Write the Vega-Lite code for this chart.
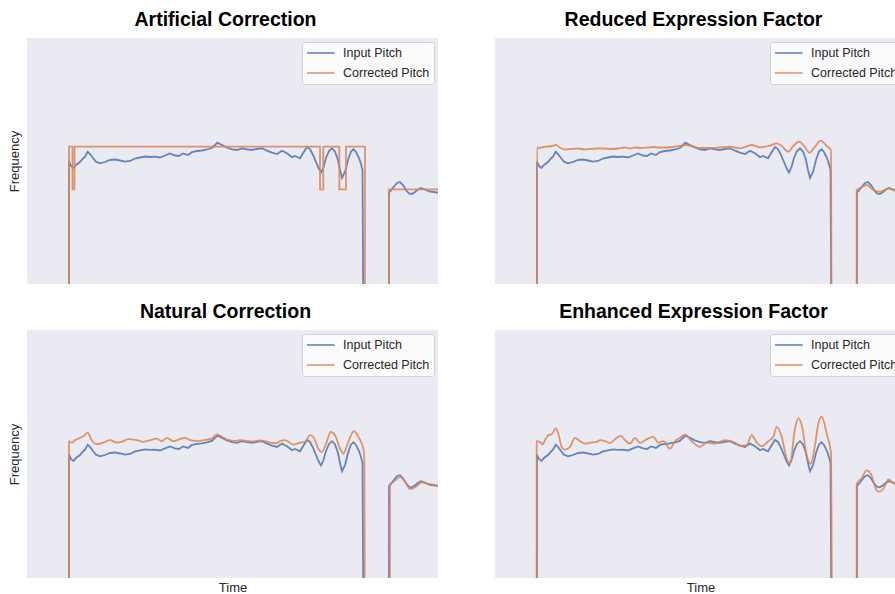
{
  "$schema": "https://vega.github.io/schema/vega-lite/v6.json",
  "background": "white",
  "padding": {"left": 8, "top": 9, "right": 0, "bottom": 0},
  "config": {
    "view": {"fill": "#EAEAF2", "stroke": null},
    "font": "Liberation Sans",
    "title": {"fontSize": 19.5, "fontWeight": "bold", "font": "Liberation Sans", "color": "#000000", "anchor": "middle", "offset": 8, "dx": -7},
    "axis": {"labels": false, "ticks": false, "domain": false, "grid": false, "titleFontSize": 13, "titleFontWeight": "normal", "titleColor": "#262626", "titleFont": "Liberation Sans"},
    "legend": {"title": null, "orient": "top-right", "offset": 4, "padding": 4, "fillColor": "#FBFBFC", "strokeColor": "#CFCFD4", "cornerRadius": 3, "labelFontSize": 12.5, "labelColor": "#262626", "labelFont": "Liberation Sans", "symbolType": "M-1,0H3.6", "symbolSize": 144, "symbolStrokeWidth": 1.6, "symbolOpacity": 0.85, "labelOffset": 23, "rowPadding": 6}
  },
  "data": {"values": [
    {"panel":"All","series":"Input Pitch","t":0,"f":0},
    {"panel":"All","series":"Input Pitch","t":0.419,"f":0},
    {"panel":"All","series":"Input Pitch","t":0.42,"f":182.3},
    {"panel":"All","series":"Input Pitch","t":0.44,"f":178},
    {"panel":"All","series":"Input Pitch","t":0.463,"f":176},
    {"panel":"All","series":"Input Pitch","t":0.49,"f":179},
    {"panel":"All","series":"Input Pitch","t":0.53,"f":182},
    {"panel":"All","series":"Input Pitch","t":0.56,"f":185.5},
    {"panel":"All","series":"Input Pitch","t":0.58,"f":187.3},
    {"panel":"All","series":"Input Pitch","t":0.607,"f":192.3},
    {"panel":"All","series":"Input Pitch","t":0.63,"f":190},
    {"panel":"All","series":"Input Pitch","t":0.66,"f":186},
    {"panel":"All","series":"Input Pitch","t":0.69,"f":182.3},
    {"panel":"All","series":"Input Pitch","t":0.73,"f":180.7},
    {"panel":"All","series":"Input Pitch","t":0.78,"f":182},
    {"panel":"All","series":"Input Pitch","t":0.83,"f":184},
    {"panel":"All","series":"Input Pitch","t":0.88,"f":184.5},
    {"panel":"All","series":"Input Pitch","t":0.93,"f":183.5},
    {"panel":"All","series":"Input Pitch","t":0.98,"f":182.3},
    {"panel":"All","series":"Input Pitch","t":1.03,"f":183},
    {"panel":"All","series":"Input Pitch","t":1.08,"f":185.5},
    {"panel":"All","series":"Input Pitch","t":1.13,"f":186.5},
    {"panel":"All","series":"Input Pitch","t":1.18,"f":187.5},
    {"panel":"All","series":"Input Pitch","t":1.23,"f":187},
    {"panel":"All","series":"Input Pitch","t":1.28,"f":187.3},
    {"panel":"All","series":"Input Pitch","t":1.33,"f":186.5},
    {"panel":"All","series":"Input Pitch","t":1.38,"f":188.5},
    {"panel":"All","series":"Input Pitch","t":1.43,"f":190.5},
    {"panel":"All","series":"Input Pitch","t":1.48,"f":188.5},
    {"panel":"All","series":"Input Pitch","t":1.52,"f":188},
    {"panel":"All","series":"Input Pitch","t":1.56,"f":190.5},
    {"panel":"All","series":"Input Pitch","t":1.61,"f":189},
    {"panel":"All","series":"Input Pitch","t":1.65,"f":192},
    {"panel":"All","series":"Input Pitch","t":1.7,"f":193},
    {"panel":"All","series":"Input Pitch","t":1.75,"f":193.5},
    {"panel":"All","series":"Input Pitch","t":1.8,"f":194.5},
    {"panel":"All","series":"Input Pitch","t":1.85,"f":196},
    {"panel":"All","series":"Input Pitch","t":1.88,"f":199},
    {"panel":"All","series":"Input Pitch","t":1.905,"f":201.3},
    {"panel":"All","series":"Input Pitch","t":1.93,"f":200},
    {"panel":"All","series":"Input Pitch","t":1.96,"f":198.5},
    {"panel":"All","series":"Input Pitch","t":2.0,"f":196.5},
    {"panel":"All","series":"Input Pitch","t":2.05,"f":194.7},
    {"panel":"All","series":"Input Pitch","t":2.1,"f":194},
    {"panel":"All","series":"Input Pitch","t":2.15,"f":195.7},
    {"panel":"All","series":"Input Pitch","t":2.2,"f":194.7},
    {"panel":"All","series":"Input Pitch","t":2.25,"f":194},
    {"panel":"All","series":"Input Pitch","t":2.3,"f":195},
    {"panel":"All","series":"Input Pitch","t":2.35,"f":195.7},
    {"panel":"All","series":"Input Pitch","t":2.4,"f":193.3},
    {"panel":"All","series":"Input Pitch","t":2.45,"f":191.3},
    {"panel":"All","series":"Input Pitch","t":2.5,"f":190},
    {"panel":"All","series":"Input Pitch","t":2.55,"f":193.3},
    {"panel":"All","series":"Input Pitch","t":2.6,"f":190.7},
    {"panel":"All","series":"Input Pitch","t":2.65,"f":186.7},
    {"panel":"All","series":"Input Pitch","t":2.68,"f":188},
    {"panel":"All","series":"Input Pitch","t":2.73,"f":185.7},
    {"panel":"All","series":"Input Pitch","t":2.76,"f":190.7},
    {"panel":"All","series":"Input Pitch","t":2.8,"f":197},
    {"panel":"All","series":"Input Pitch","t":2.83,"f":195},
    {"panel":"All","series":"Input Pitch","t":2.86,"f":189},
    {"panel":"All","series":"Input Pitch","t":2.89,"f":182},
    {"panel":"All","series":"Input Pitch","t":2.915,"f":176},
    {"panel":"All","series":"Input Pitch","t":2.94,"f":171.5},
    {"panel":"All","series":"Input Pitch","t":2.965,"f":177},
    {"panel":"All","series":"Input Pitch","t":2.99,"f":186},
    {"panel":"All","series":"Input Pitch","t":3.02,"f":193},
    {"panel":"All","series":"Input Pitch","t":3.05,"f":195.7},
    {"panel":"All","series":"Input Pitch","t":3.08,"f":192.5},
    {"panel":"All","series":"Input Pitch","t":3.11,"f":184},
    {"panel":"All","series":"Input Pitch","t":3.13,"f":174},
    {"panel":"All","series":"Input Pitch","t":3.15,"f":166},
    {"panel":"All","series":"Input Pitch","t":3.18,"f":172},
    {"panel":"All","series":"Input Pitch","t":3.21,"f":184},
    {"panel":"All","series":"Input Pitch","t":3.24,"f":192.5},
    {"panel":"All","series":"Input Pitch","t":3.265,"f":194.7},
    {"panel":"All","series":"Input Pitch","t":3.29,"f":192},
    {"panel":"All","series":"Input Pitch","t":3.32,"f":186},
    {"panel":"All","series":"Input Pitch","t":3.34,"f":180},
    {"panel":"All","series":"Input Pitch","t":3.355,"f":174},
    {"panel":"All","series":"Input Pitch","t":3.365,"f":0},
    {"panel":"All","series":"Input Pitch","t":3.619,"f":0},
    {"panel":"All","series":"Input Pitch","t":3.62,"f":151.5},
    {"panel":"All","series":"Input Pitch","t":3.64,"f":153.5},
    {"panel":"All","series":"Input Pitch","t":3.67,"f":157.5},
    {"panel":"All","series":"Input Pitch","t":3.7,"f":161},
    {"panel":"All","series":"Input Pitch","t":3.73,"f":162},
    {"panel":"All","series":"Input Pitch","t":3.76,"f":159},
    {"panel":"All","series":"Input Pitch","t":3.79,"f":154},
    {"panel":"All","series":"Input Pitch","t":3.82,"f":150.5},
    {"panel":"All","series":"Input Pitch","t":3.85,"f":150},
    {"panel":"All","series":"Input Pitch","t":3.88,"f":152},
    {"panel":"All","series":"Input Pitch","t":3.91,"f":154.5},
    {"panel":"All","series":"Input Pitch","t":3.94,"f":156},
    {"panel":"All","series":"Input Pitch","t":3.97,"f":155},
    {"panel":"All","series":"Input Pitch","t":4.0,"f":153.5},
    {"panel":"All","series":"Input Pitch","t":4.03,"f":152.5},
    {"panel":"All","series":"Input Pitch","t":4.07,"f":152},
    {"panel":"All","series":"Input Pitch","t":4.11,"f":151.3},

    {"panel":"Artificial","series":"Corrected Pitch","t":0,"f":0},
    {"panel":"Artificial","series":"Corrected Pitch","t":0.42,"f":197.3},
    {"panel":"Artificial","series":"Corrected Pitch","t":0.455,"f":154.7},
    {"panel":"Artificial","series":"Corrected Pitch","t":0.475,"f":197.3},
    {"panel":"Artificial","series":"Corrected Pitch","t":2.93,"f":154.7},
    {"panel":"Artificial","series":"Corrected Pitch","t":2.963,"f":197.3},
    {"panel":"Artificial","series":"Corrected Pitch","t":3.123,"f":154.7},
    {"panel":"Artificial","series":"Corrected Pitch","t":3.19,"f":197.3},
    {"panel":"Artificial","series":"Corrected Pitch","t":3.38,"f":0},
    {"panel":"Artificial","series":"Corrected Pitch","t":3.62,"f":154.7},
    {"panel":"Artificial","series":"Corrected Pitch","t":4.11,"f":154.7},

    {"panel":"Natural","series":"Corrected Pitch","t":0,"f":0},
    {"panel":"Natural","series":"Corrected Pitch","t":0.419,"f":0},
    {"panel":"Natural","series":"Corrected Pitch","t":0.42,"f":195.7},
    {"panel":"Natural","series":"Corrected Pitch","t":0.447,"f":194.3},
    {"panel":"Natural","series":"Corrected Pitch","t":0.48,"f":196.7},
    {"panel":"Natural","series":"Corrected Pitch","t":0.53,"f":199},
    {"panel":"Natural","series":"Corrected Pitch","t":0.563,"f":200.7},
    {"panel":"Natural","series":"Corrected Pitch","t":0.607,"f":204.3},
    {"panel":"Natural","series":"Corrected Pitch","t":0.647,"f":196.7},
    {"panel":"Natural","series":"Corrected Pitch","t":0.697,"f":192.7},
    {"panel":"Natural","series":"Corrected Pitch","t":0.763,"f":194.3},
    {"panel":"Natural","series":"Corrected Pitch","t":0.83,"f":196.7},
    {"panel":"Natural","series":"Corrected Pitch","t":0.897,"f":194.3},
    {"panel":"Natural","series":"Corrected Pitch","t":0.947,"f":195},
    {"panel":"Natural","series":"Corrected Pitch","t":1.013,"f":197.7},
    {"panel":"Natural","series":"Corrected Pitch","t":1.097,"f":196.7},
    {"panel":"Natural","series":"Corrected Pitch","t":1.163,"f":195},
    {"panel":"Natural","series":"Corrected Pitch","t":1.23,"f":196.7},
    {"panel":"Natural","series":"Corrected Pitch","t":1.297,"f":198.3},
    {"panel":"Natural","series":"Corrected Pitch","t":1.347,"f":195.7},
    {"panel":"Natural","series":"Corrected Pitch","t":1.397,"f":199},
    {"panel":"Natural","series":"Corrected Pitch","t":1.463,"f":195.7},
    {"panel":"Natural","series":"Corrected Pitch","t":1.53,"f":197.7},
    {"panel":"Natural","series":"Corrected Pitch","t":1.58,"f":199},
    {"panel":"Natural","series":"Corrected Pitch","t":1.63,"f":196.7},
    {"panel":"Natural","series":"Corrected Pitch","t":1.713,"f":195.7},
    {"panel":"Natural","series":"Corrected Pitch","t":1.78,"f":197},
    {"panel":"Natural","series":"Corrected Pitch","t":1.85,"f":198.5},
    {"panel":"Natural","series":"Corrected Pitch","t":1.9,"f":202.5},
    {"panel":"Natural","series":"Corrected Pitch","t":1.95,"f":200},
    {"panel":"Natural","series":"Corrected Pitch","t":2.01,"f":197},
    {"panel":"Natural","series":"Corrected Pitch","t":2.07,"f":196},
    {"panel":"Natural","series":"Corrected Pitch","t":2.13,"f":196.7},
    {"panel":"Natural","series":"Corrected Pitch","t":2.2,"f":196},
    {"panel":"Natural","series":"Corrected Pitch","t":2.27,"f":195.5},
    {"panel":"Natural","series":"Corrected Pitch","t":2.33,"f":196.5},
    {"panel":"Natural","series":"Corrected Pitch","t":2.39,"f":195.5},
    {"panel":"Natural","series":"Corrected Pitch","t":2.45,"f":194},
    {"panel":"Natural","series":"Corrected Pitch","t":2.49,"f":193.5},
    {"panel":"Natural","series":"Corrected Pitch","t":2.53,"f":195.7},
    {"panel":"Natural","series":"Corrected Pitch","t":2.58,"f":196.7},
    {"panel":"Natural","series":"Corrected Pitch","t":2.663,"f":192.3},
    {"panel":"Natural","series":"Corrected Pitch","t":2.73,"f":194.3},
    {"panel":"Natural","series":"Corrected Pitch","t":2.78,"f":195},
    {"panel":"Natural","series":"Corrected Pitch","t":2.83,"f":201.7},
    {"panel":"Natural","series":"Corrected Pitch","t":2.863,"f":200},
    {"panel":"Natural","series":"Corrected Pitch","t":2.913,"f":188.3},
    {"panel":"Natural","series":"Corrected Pitch","t":2.947,"f":185},
    {"panel":"Natural","series":"Corrected Pitch","t":2.997,"f":195},
    {"panel":"Natural","series":"Corrected Pitch","t":3.037,"f":205},
    {"panel":"Natural","series":"Corrected Pitch","t":3.08,"f":201.7},
    {"panel":"Natural","series":"Corrected Pitch","t":3.13,"f":188.3},
    {"panel":"Natural","series":"Corrected Pitch","t":3.163,"f":183.3},
    {"panel":"Natural","series":"Corrected Pitch","t":3.213,"f":195},
    {"panel":"Natural","series":"Corrected Pitch","t":3.27,"f":205.7},
    {"panel":"Natural","series":"Corrected Pitch","t":3.313,"f":200},
    {"panel":"Natural","series":"Corrected Pitch","t":3.363,"f":188.3},
    {"panel":"Natural","series":"Corrected Pitch","t":3.373,"f":178.3},
    {"panel":"Natural","series":"Corrected Pitch","t":3.38,"f":0},
    {"panel":"Natural","series":"Corrected Pitch","t":3.629,"f":0},
    {"panel":"Natural","series":"Corrected Pitch","t":3.63,"f":151.7},
    {"panel":"Natural","series":"Corrected Pitch","t":3.68,"f":156.7},
    {"panel":"Natural","series":"Corrected Pitch","t":3.73,"f":160},
    {"panel":"Natural","series":"Corrected Pitch","t":3.78,"f":155.7},
    {"panel":"Natural","series":"Corrected Pitch","t":3.83,"f":148.3},
    {"panel":"Natural","series":"Corrected Pitch","t":3.897,"f":151},
    {"panel":"Natural","series":"Corrected Pitch","t":3.947,"f":155},
    {"panel":"Natural","series":"Corrected Pitch","t":4.013,"f":153.3},
    {"panel":"Natural","series":"Corrected Pitch","t":4.097,"f":151.7},
    {"panel":"Natural","series":"Corrected Pitch","t":4.11,"f":151.5},

    {"panel":"Reduced","series":"Corrected Pitch","t":0,"f":0},
    {"panel":"Reduced","series":"Corrected Pitch","t":0.419,"f":0},
    {"panel":"Reduced","series":"Corrected Pitch","t":0.42,"f":196.5},
    {"panel":"Reduced","series":"Corrected Pitch","t":0.45,"f":196},
    {"panel":"Reduced","series":"Corrected Pitch","t":0.48,"f":197},
    {"panel":"Reduced","series":"Corrected Pitch","t":0.53,"f":197.5},
    {"panel":"Reduced","series":"Corrected Pitch","t":0.57,"f":198},
    {"panel":"Reduced","series":"Corrected Pitch","t":0.61,"f":199},
    {"panel":"Reduced","series":"Corrected Pitch","t":0.65,"f":196.5},
    {"panel":"Reduced","series":"Corrected Pitch","t":0.7,"f":194.5},
    {"panel":"Reduced","series":"Corrected Pitch","t":0.76,"f":195},
    {"panel":"Reduced","series":"Corrected Pitch","t":0.83,"f":195.5},
    {"panel":"Reduced","series":"Corrected Pitch","t":0.9,"f":194.5},
    {"panel":"Reduced","series":"Corrected Pitch","t":0.95,"f":195},
    {"panel":"Reduced","series":"Corrected Pitch","t":1.01,"f":195.5},
    {"panel":"Reduced","series":"Corrected Pitch","t":1.1,"f":195.5},
    {"panel":"Reduced","series":"Corrected Pitch","t":1.16,"f":195},
    {"panel":"Reduced","series":"Corrected Pitch","t":1.23,"f":195.5},
    {"panel":"Reduced","series":"Corrected Pitch","t":1.3,"f":196.5},
    {"panel":"Reduced","series":"Corrected Pitch","t":1.35,"f":195.5},
    {"panel":"Reduced","series":"Corrected Pitch","t":1.4,"f":196.5},
    {"panel":"Reduced","series":"Corrected Pitch","t":1.46,"f":196},
    {"panel":"Reduced","series":"Corrected Pitch","t":1.53,"f":196.5},
    {"panel":"Reduced","series":"Corrected Pitch","t":1.58,"f":197},
    {"panel":"Reduced","series":"Corrected Pitch","t":1.63,"f":196.5},
    {"panel":"Reduced","series":"Corrected Pitch","t":1.71,"f":196.5},
    {"panel":"Reduced","series":"Corrected Pitch","t":1.78,"f":197},
    {"panel":"Reduced","series":"Corrected Pitch","t":1.85,"f":198},
    {"panel":"Reduced","series":"Corrected Pitch","t":1.91,"f":199},
    {"panel":"Reduced","series":"Corrected Pitch","t":1.98,"f":197.5},
    {"panel":"Reduced","series":"Corrected Pitch","t":2.05,"f":196},
    {"panel":"Reduced","series":"Corrected Pitch","t":2.13,"f":196},
    {"panel":"Reduced","series":"Corrected Pitch","t":2.2,"f":196},
    {"panel":"Reduced","series":"Corrected Pitch","t":2.25,"f":196.7},
    {"panel":"Reduced","series":"Corrected Pitch","t":2.35,"f":197.3},
    {"panel":"Reduced","series":"Corrected Pitch","t":2.45,"f":195.7},
    {"panel":"Reduced","series":"Corrected Pitch","t":2.567,"f":199},
    {"panel":"Reduced","series":"Corrected Pitch","t":2.65,"f":196.7},
    {"panel":"Reduced","series":"Corrected Pitch","t":2.75,"f":198.3},
    {"panel":"Reduced","series":"Corrected Pitch","t":2.817,"f":200.7},
    {"panel":"Reduced","series":"Corrected Pitch","t":2.867,"f":198},
    {"panel":"Reduced","series":"Corrected Pitch","t":2.933,"f":192.3},
    {"panel":"Reduced","series":"Corrected Pitch","t":2.983,"f":198},
    {"panel":"Reduced","series":"Corrected Pitch","t":3.04,"f":202.3},
    {"panel":"Reduced","series":"Corrected Pitch","t":3.1,"f":196.7},
    {"panel":"Reduced","series":"Corrected Pitch","t":3.143,"f":191.3},
    {"panel":"Reduced","series":"Corrected Pitch","t":3.2,"f":197.3},
    {"panel":"Reduced","series":"Corrected Pitch","t":3.257,"f":203.3},
    {"panel":"Reduced","series":"Corrected Pitch","t":3.317,"f":198},
    {"panel":"Reduced","series":"Corrected Pitch","t":3.36,"f":194},
    {"panel":"Reduced","series":"Corrected Pitch","t":3.367,"f":0},
    {"panel":"Reduced","series":"Corrected Pitch","t":3.616,"f":0},
    {"panel":"Reduced","series":"Corrected Pitch","t":3.617,"f":154},
    {"panel":"Reduced","series":"Corrected Pitch","t":3.667,"f":156.7},
    {"panel":"Reduced","series":"Corrected Pitch","t":3.717,"f":159},
    {"panel":"Reduced","series":"Corrected Pitch","t":3.783,"f":154},
    {"panel":"Reduced","series":"Corrected Pitch","t":3.85,"f":152.3},
    {"panel":"Reduced","series":"Corrected Pitch","t":3.933,"f":155.7},
    {"panel":"Reduced","series":"Corrected Pitch","t":4.0,"f":153.3},
    {"panel":"Reduced","series":"Corrected Pitch","t":4.11,"f":153},

    {"panel":"Enhanced","series":"Corrected Pitch","t":0,"f":0},
    {"panel":"Enhanced","series":"Corrected Pitch","t":0.416,"f":0},
    {"panel":"Enhanced","series":"Corrected Pitch","t":0.417,"f":195.7},
    {"panel":"Enhanced","series":"Corrected Pitch","t":0.45,"f":195},
    {"panel":"Enhanced","series":"Corrected Pitch","t":0.473,"f":192.3},
    {"panel":"Enhanced","series":"Corrected Pitch","t":0.5,"f":196.7},
    {"panel":"Enhanced","series":"Corrected Pitch","t":0.533,"f":201.7},
    {"panel":"Enhanced","series":"Corrected Pitch","t":0.567,"f":202.7},
    {"panel":"Enhanced","series":"Corrected Pitch","t":0.607,"f":208.3},
    {"panel":"Enhanced","series":"Corrected Pitch","t":0.633,"f":203.3},
    {"panel":"Enhanced","series":"Corrected Pitch","t":0.667,"f":190},
    {"panel":"Enhanced","series":"Corrected Pitch","t":0.7,"f":187.3},
    {"panel":"Enhanced","series":"Corrected Pitch","t":0.75,"f":190},
    {"panel":"Enhanced","series":"Corrected Pitch","t":0.8,"f":199},
    {"panel":"Enhanced","series":"Corrected Pitch","t":0.85,"f":195.7},
    {"panel":"Enhanced","series":"Corrected Pitch","t":0.9,"f":193.3},
    {"panel":"Enhanced","series":"Corrected Pitch","t":0.95,"f":194.3},
    {"panel":"Enhanced","series":"Corrected Pitch","t":1.017,"f":195},
    {"panel":"Enhanced","series":"Corrected Pitch","t":1.05,"f":196.7},
    {"panel":"Enhanced","series":"Corrected Pitch","t":1.1,"f":195.7},
    {"panel":"Enhanced","series":"Corrected Pitch","t":1.15,"f":194},
    {"panel":"Enhanced","series":"Corrected Pitch","t":1.2,"f":197.7},
    {"panel":"Enhanced","series":"Corrected Pitch","t":1.26,"f":201},
    {"panel":"Enhanced","series":"Corrected Pitch","t":1.3,"f":196.7},
    {"panel":"Enhanced","series":"Corrected Pitch","t":1.35,"f":193.3},
    {"panel":"Enhanced","series":"Corrected Pitch","t":1.4,"f":199},
    {"panel":"Enhanced","series":"Corrected Pitch","t":1.45,"f":194},
    {"panel":"Enhanced","series":"Corrected Pitch","t":1.5,"f":196.7},
    {"panel":"Enhanced","series":"Corrected Pitch","t":1.583,"f":200},
    {"panel":"Enhanced","series":"Corrected Pitch","t":1.633,"f":194.3},
    {"panel":"Enhanced","series":"Corrected Pitch","t":1.683,"f":195.7},
    {"panel":"Enhanced","series":"Corrected Pitch","t":1.75,"f":188.3},
    {"panel":"Enhanced","series":"Corrected Pitch","t":1.8,"f":195.7},
    {"panel":"Enhanced","series":"Corrected Pitch","t":1.85,"f":199},
    {"panel":"Enhanced","series":"Corrected Pitch","t":1.9,"f":202.3},
    {"panel":"Enhanced","series":"Corrected Pitch","t":1.967,"f":195.7},
    {"panel":"Enhanced","series":"Corrected Pitch","t":2.05,"f":190},
    {"panel":"Enhanced","series":"Corrected Pitch","t":2.117,"f":194.3},
    {"panel":"Enhanced","series":"Corrected Pitch","t":2.2,"f":193.3},
    {"panel":"Enhanced","series":"Corrected Pitch","t":2.3,"f":196.7},
    {"panel":"Enhanced","series":"Corrected Pitch","t":2.383,"f":195},
    {"panel":"Enhanced","series":"Corrected Pitch","t":2.467,"f":191},
    {"panel":"Enhanced","series":"Corrected Pitch","t":2.517,"f":191.7},
    {"panel":"Enhanced","series":"Corrected Pitch","t":2.567,"f":201.7},
    {"panel":"Enhanced","series":"Corrected Pitch","t":2.617,"f":194.3},
    {"panel":"Enhanced","series":"Corrected Pitch","t":2.673,"f":190.7},
    {"panel":"Enhanced","series":"Corrected Pitch","t":2.733,"f":195.7},
    {"panel":"Enhanced","series":"Corrected Pitch","t":2.783,"f":200},
    {"panel":"Enhanced","series":"Corrected Pitch","t":2.817,"f":210},
    {"panel":"Enhanced","series":"Corrected Pitch","t":2.867,"f":200},
    {"panel":"Enhanced","series":"Corrected Pitch","t":2.917,"f":178.3},
    {"panel":"Enhanced","series":"Corrected Pitch","t":2.95,"f":173.3},
    {"panel":"Enhanced","series":"Corrected Pitch","t":3.0,"f":208.3},
    {"panel":"Enhanced","series":"Corrected Pitch","t":3.033,"f":218.3},
    {"panel":"Enhanced","series":"Corrected Pitch","t":3.067,"f":211.7},
    {"panel":"Enhanced","series":"Corrected Pitch","t":3.117,"f":181.7},
    {"panel":"Enhanced","series":"Corrected Pitch","t":3.157,"f":173.3},
    {"panel":"Enhanced","series":"Corrected Pitch","t":3.2,"f":191.7},
    {"panel":"Enhanced","series":"Corrected Pitch","t":3.233,"f":213.3},
    {"panel":"Enhanced","series":"Corrected Pitch","t":3.267,"f":220},
    {"panel":"Enhanced","series":"Corrected Pitch","t":3.317,"f":203.3},
    {"panel":"Enhanced","series":"Corrected Pitch","t":3.36,"f":183.3},
    {"panel":"Enhanced","series":"Corrected Pitch","t":3.373,"f":0},
    {"panel":"Enhanced","series":"Corrected Pitch","t":3.616,"f":0},
    {"panel":"Enhanced","series":"Corrected Pitch","t":3.617,"f":153.3},
    {"panel":"Enhanced","series":"Corrected Pitch","t":3.667,"f":159},
    {"panel":"Enhanced","series":"Corrected Pitch","t":3.717,"f":166.7},
    {"panel":"Enhanced","series":"Corrected Pitch","t":3.76,"f":163},
    {"panel":"Enhanced","series":"Corrected Pitch","t":3.817,"f":147},
    {"panel":"Enhanced","series":"Corrected Pitch","t":3.84,"f":145.7},
    {"panel":"Enhanced","series":"Corrected Pitch","t":3.883,"f":148.3},
    {"panel":"Enhanced","series":"Corrected Pitch","t":3.933,"f":157.7},
    {"panel":"Enhanced","series":"Corrected Pitch","t":3.97,"f":155.5},
    {"panel":"Enhanced","series":"Corrected Pitch","t":4.0,"f":153.3},
    {"panel":"Enhanced","series":"Corrected Pitch","t":4.11,"f":154}
  ]},
  "resolve": {"scale": {"color": "independent"}, "legend": {"color": "independent"}},
  "spacing": 17,
  "vconcat": [
    {
      "hconcat": [
        {
          "width": 411, "height": 246,
          "title": "Artificial Correction",
          "encoding": {
            "x": {"field": "t", "type": "quantitative", "scale": {"domain": [0, 4.11], "nice": false, "zero": false}, "axis": null},
            "y": {"field": "f", "type": "quantitative", "scale": {"domain": [60, 306], "nice": false, "zero": false}, "axis": {"title": "Frequency", "titlePadding": 6}},
            "color": {"field": "series", "type": "nominal", "scale": {"domain": ["Input Pitch", "Corrected Pitch"], "range": ["#4C72B0", "#DD8452"]}}
          },
          "layer": [
            {"transform": [{"filter": "datum.series === 'Input Pitch'"}], "mark": {"type": "line", "interpolate": "linear", "clip": true, "strokeWidth": 1.8, "opacity": 0.85}},
            {"transform": [{"filter": "datum.panel === 'Artificial'"}], "mark": {"type": "line", "interpolate": "step-after", "clip": true, "strokeWidth": 1.8, "opacity": 0.85}}
          ]
        },
        {
          "width": 411, "height": 246,
          "title": "Reduced Expression Factor",
          "encoding": {
            "x": {"field": "t", "type": "quantitative", "scale": {"domain": [0, 4.11], "nice": false, "zero": false}, "axis": null},
            "y": {"field": "f", "type": "quantitative", "scale": {"domain": [60, 306], "nice": false, "zero": false}, "axis": null},
            "color": {"field": "series", "type": "nominal", "scale": {"domain": ["Input Pitch", "Corrected Pitch"], "range": ["#4C72B0", "#DD8452"]}}
          },
          "layer": [
            {"transform": [{"filter": "datum.series === 'Input Pitch'"}], "mark": {"type": "line", "interpolate": "linear", "clip": true, "strokeWidth": 1.8, "opacity": 0.85}},
            {"transform": [{"filter": "datum.panel === 'Reduced'"}], "mark": {"type": "line", "interpolate": "monotone", "clip": true, "strokeWidth": 1.8, "opacity": 0.85}}
          ]
        }
      ],
      "spacing": 57,
      "resolve": {"scale": {"color": "independent"}, "legend": {"color": "independent"}}
    },
    {
      "hconcat": [
        {
          "width": 411, "height": 248,
          "title": "Natural Correction",
          "encoding": {
            "x": {"field": "t", "type": "quantitative", "scale": {"domain": [0, 4.11], "nice": false, "zero": false}, "axis": {"title": "Time", "titlePadding": 3}},
            "y": {"field": "f", "type": "quantitative", "scale": {"domain": [60, 306], "nice": false, "zero": false}, "axis": {"title": "Frequency", "titlePadding": 6}},
            "color": {"field": "series", "type": "nominal", "scale": {"domain": ["Input Pitch", "Corrected Pitch"], "range": ["#4C72B0", "#DD8452"]}}
          },
          "layer": [
            {"transform": [{"filter": "datum.series === 'Input Pitch'"}], "mark": {"type": "line", "interpolate": "linear", "clip": true, "strokeWidth": 1.8, "opacity": 0.85}},
            {"transform": [{"filter": "datum.panel === 'Natural'"}], "mark": {"type": "line", "interpolate": "monotone", "clip": true, "strokeWidth": 1.8, "opacity": 0.85}}
          ]
        },
        {
          "width": 411, "height": 248,
          "title": "Enhanced Expression Factor",
          "encoding": {
            "x": {"field": "t", "type": "quantitative", "scale": {"domain": [0, 4.11], "nice": false, "zero": false}, "axis": {"title": "Time", "titlePadding": 3}},
            "y": {"field": "f", "type": "quantitative", "scale": {"domain": [60, 306], "nice": false, "zero": false}, "axis": null},
            "color": {"field": "series", "type": "nominal", "scale": {"domain": ["Input Pitch", "Corrected Pitch"], "range": ["#4C72B0", "#DD8452"]}}
          },
          "layer": [
            {"transform": [{"filter": "datum.series === 'Input Pitch'"}], "mark": {"type": "line", "interpolate": "linear", "clip": true, "strokeWidth": 1.8, "opacity": 0.85}},
            {"transform": [{"filter": "datum.panel === 'Enhanced'"}], "mark": {"type": "line", "interpolate": "monotone", "clip": true, "strokeWidth": 1.8, "opacity": 0.85}}
          ]
        }
      ],
      "spacing": 57,
      "resolve": {"scale": {"color": "independent"}, "legend": {"color": "independent"}}
    }
  ]
}
